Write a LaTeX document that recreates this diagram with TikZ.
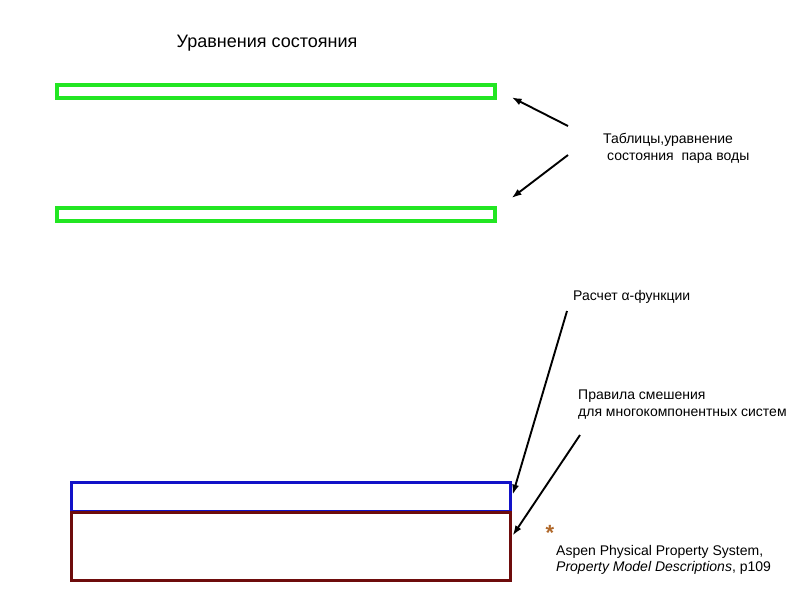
\documentclass[tikz,border=0pt]{standalone}
\usepackage{fontspec}
\setmainfont{Liberation Sans}
\usetikzlibrary{arrows.meta, positioning}
\definecolor{barborder}{HTML}{22E622}
\definecolor{alphaborder}{HTML}{1212C8}
\definecolor{mixborder}{HTML}{6E0C0C}
\definecolor{starcolor}{HTML}{B0682A}
\tikzset{
  bar/.style={rectangle, draw, anchor=north west, inner sep=0pt},
  greenbar/.style={bar, draw=barborder, line width=3.6pt, minimum width=438pt, minimum height=13pt},
  alphabar/.style={bar, draw=alphaborder, line width=3.2pt, minimum width=439pt, minimum height=29pt},
  mixbox/.style={bar, draw=mixborder, line width=3.2pt, minimum width=439pt, minimum height=68pt},
  label/.style={anchor=north west, align=left, inner sep=0pt, font=\fontsize{14}{17}\selectfont},
  pointer/.style={-{Latex[length=10pt, width=7pt]}, line width=1.9pt, draw=black},
}

\begin{document}
\begin{tikzpicture}[x=1pt, y=-1pt]
\useasboundingbox (0,0) rectangle (794,595);

% Title
\node[font=\fontsize{18}{21}\selectfont] (title) at (267,43) {Уравнения состояния};

% Bars
\node[greenbar] (eos1) at (55,83) {};
\node[greenbar] (eos2) at (55,206) {};
\node[alphabar] (alpha) at (69.5,480.5) {};
\node[mixbox] (mix) at (69.5,510.5) {};

% Labels
\node[label] (tables) at (603,133) {Таблицы,уравнение\\ \ состояния \ пара воды};
\node[label] (alphafn) at (573,290) {Расчет α-функции};
\node[label] (mixing) at (578,390) {Правила смешения\\для многокомпонентных систем};
\node[font=\fontsize{22}{22}\selectfont\bfseries, text=starcolor, inner sep=0pt] (star) at (550,533) {*};
\node[label, font=\fontsize{14}{16}\selectfont] (aspen) at (556,545) {Aspen Physical Property System,\\\textit{Property Model Descriptions}, p109};

% Arrow tails
\coordinate (t1) at (568,126);
\coordinate (t2) at (568,155);
\coordinate (a1) at (567,311);
\coordinate (m1) at (580,435);

% Pointers
\draw[pointer] (t1) -- ([shift={(15,6)}]eos1.east);
\draw[pointer] (t2) -- ([shift={(15,-8)}]eos2.north east);
\draw[pointer] (a1) -- ([shift={(1,-2)}]alpha.east);
\draw[pointer] (m1) -- ([shift={(1,25)}]mix.north east);

\end{tikzpicture}
\end{document}
